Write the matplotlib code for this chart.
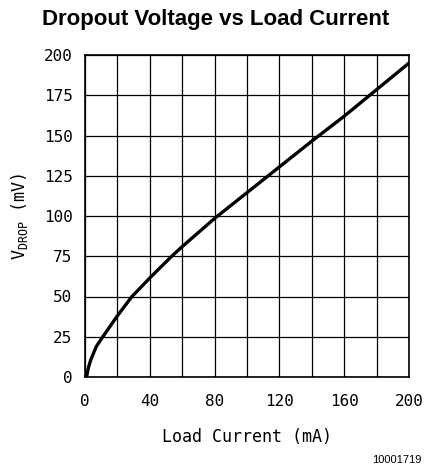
import matplotlib
matplotlib.use("Agg")
import matplotlib.pyplot as plt
from matplotlib.ticker import MultipleLocator

# data
load_current_ma = [1, 2, 3.5, 7, 11, 20, 29, 40, 53.5, 60, 80, 100, 120,
                   140, 160, 180, 200]
vdrop_mv = [0, 5.5, 10.5, 19, 25, 38, 50, 61.5, 75, 81, 98.5, 114.5, 130.5,
            146.5, 162, 178.5, 195]
x_ticks = [0, 40, 80, 120, 160, 200]
y_ticks = [0, 25, 50, 75, 100, 125, 150, 175, 200]

plt.rcParams['mathtext.fontset'] = 'custom'
plt.rcParams['mathtext.rm'] = 'DejaVu Sans Mono'
plt.rcParams['mathtext.it'] = 'DejaVu Sans Mono'

mono = 'DejaVu Sans Mono'

fig = plt.figure(figsize=(4.24, 4.71), dpi=100)
ax = fig.add_axes([85/424, 1 - 377/471, 324/424, 322/471])

ax.plot(load_current_ma, vdrop_mv, color='black', lw=2.4,
        solid_joinstyle='round', solid_capstyle='round', zorder=3)

ax.set_xlim(0, 200)
ax.set_ylim(0, 200)
ax.set_xticks(x_ticks)
ax.set_yticks(y_ticks)
ax.xaxis.set_minor_locator(MultipleLocator(20))
ax.grid(True, which='both', color='black', lw=0.9)
ax.tick_params(which='both', length=0)
ax.tick_params(axis='x', pad=12)
ax.tick_params(axis='y', pad=9)
for lab in ax.get_xticklabels() + ax.get_yticklabels():
    lab.set_fontfamily(mono)
    lab.set_fontsize(11.5)
for s in ax.spines.values():
    s.set_linewidth(1.2)
    s.set_color('black')

ax.set_xlabel('Load Current (mA)', fontfamily=mono, fontsize=12, labelpad=14)
ax.set_ylabel(r'V$_{\mathrm{DROP}}$ (mV)', fontfamily=mono, fontsize=12, labelpad=10)

fig.text(216/424, 1 - 20/471, 'Dropout Voltage vs Load Current',
         ha='center', va='center', fontfamily='Liberation Sans',
         fontweight='bold', fontsize=16)
fig.text(421/424, 1 - 460/471, '10001719', ha='right', va='center',
         fontfamily='Liberation Sans', fontsize=8)

fig.savefig('out.png', dpi=100)
